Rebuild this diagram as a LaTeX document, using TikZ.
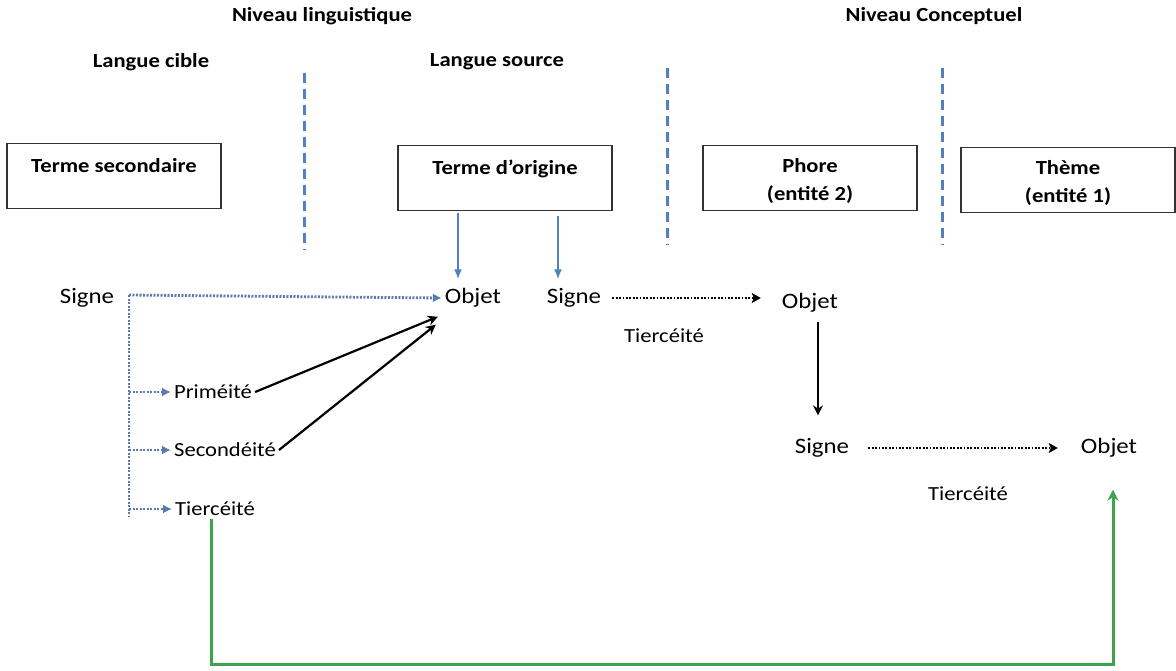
\documentclass[tikz,border=0pt]{standalone}
\usepackage{fontspec}
\setmainfont{Carlito}[FakeStretch=1.13]
\usepackage{tikz}
\usetikzlibrary{arrows.meta, positioning}
\definecolor{divblue}{RGB}{79,129,189}
\definecolor{dotblue}{RGB}{92,122,176}
\definecolor{linkgreen}{RGB}{62,163,76}
\tikzstyle{level} = [font=\fontsize{20}{24}\selectfont\bfseries, inner sep=2pt]
\tikzstyle{box} = [rectangle, draw=black!80, line width=1.2pt, minimum width=214pt, minimum height=65pt, inner sep=0pt, align=center, font=\fontsize{20}{28}\selectfont\bfseries]
\tikzstyle{word} = [font=\fontsize{22}{26}\selectfont, inner sep=3pt]
\tikzstyle{label} = [font=\fontsize{20}{24}\selectfont, inner sep=3pt]
\tikzstyle{divider} = [divblue, line width=3pt, dash pattern=on 10pt off 6pt]
\tikzstyle{bluearrow} = [divblue, line width=1.8pt, -{Latex[length=10pt,width=8pt]}]
\tikzstyle{treeline} = [dotblue, line width=2.8pt, dash pattern=on 2pt off 1.5pt]
\tikzstyle{treearrow} = [treeline, -{Latex[length=9pt,width=9pt]}]
\tikzstyle{arrow} = [black, line width=2.2pt, -{Stealth[length=10pt,width=10pt]}]
\tikzstyle{dotarrow} = [black, line width=2.4pt, dash pattern=on 1.8pt off 1.6pt, -{Stealth[length=9pt,width=10pt,inset=2pt]}]
\tikzstyle{greenarrow} = [linkgreen, line width=3pt, -{Stealth[length=11pt,width=11pt]}]

\begin{document}
\begin{tikzpicture}[x=1pt, y=-1pt]
\useasboundingbox (0,0) rectangle (1176,670);
% Placement of headers and boxes
\node (lingu) [level] at (322,16) {Niveau linguistique};
\node (concept) [level] at (934,16) {Niveau Conceptuel};
\node (cible) [level] at (151,62) {Langue cible};
\node (source) [level] at (497,62) {Langue source};

\node (secondaire) [box] at (114,176) {\rule{0pt}{20pt}Terme secondaire\\~};
\node (origine) [box] at (505,178) {\rule{0pt}{20pt}Terme d’origine\\~};
\node (phore) [box] at (810,178) {\rule{0pt}{20pt}Phore\\(entité 2)};
\node (theme) [box] at (1068,180) {\rule{0pt}{20pt}Thème\\(entité 1)};

% Dividers
\draw [divider] (304,73) -- (304,250);
\draw [divider] (667,68) -- (667,245);
\draw [divider] (942,68) -- (942,245);

% Placement of signs and objects
\node (signeA) [word] at (87,298) {Signe};
\node (objetA) [word] at (473,298) {Objet};
\node (signeB) [word] at (574,298) {Signe};
\node (objetB) [word] at (810,303) {Objet};
\node (tierB) [label] at (664,336) {Tiercéité};
\node (signeC) [word] at (822,448) {Signe};
\node (objetC) [word] at (1109,448) {Objet};
\node (tierC) [label] at (968,494) {Tiercéité};

\node (prim) [label] at (213,392) {Priméité};
\node (second) [label] at (225,450) {Secondéité};
\node (tierA) [label] at (215,509) {Tiercéité};

\coordinate (trunk) at (129,295);
\coordinate (trunkend) at (129,517);
\coordinate (bottom) at (0,664);

% Drawing of Lines of main chart
\draw [bluearrow, shorten <=2pt, shorten >=6pt] ([xshift=-47pt]origine.south) -- ([xshift=-47pt]origine.south |- objetA.north);
\draw [bluearrow, shorten <=5pt, shorten >=6pt] ([xshift=53pt]origine.south) -- ([xshift=53pt]origine.south |- signeB.north);

\draw [treeline] (trunk) -- (trunkend);
\draw [treearrow] (trunk) -- (objetA.west);
\draw [treearrow] (trunk |- prim) -- (prim.west);
\draw [treearrow] (trunk |- second) -- (second.west);
\draw [treearrow] (trunk |- tierA) -- (tierA.west);

\draw [arrow] (prim.east) -- ([xshift=-4pt, yshift=-6pt]objetA.south west);
\draw [arrow] (second.east) -- ([xshift=-6pt, yshift=-14pt]objetA.south west);

\draw [dotarrow, shorten <=8pt, shorten >=18pt] (signeB.east) -- (signeB.east -| objetB.west);
\draw [arrow, shorten <=6pt, shorten >=20pt] ([xshift=8pt]objetB.south) -- ([xshift=8pt]objetB.south |- signeC.north);
\draw [dotarrow, shorten <=16pt, shorten >=20pt] (signeC.east) -- (objetC.west);

\draw [greenarrow, shorten >=29pt] ([xshift=-4pt]tierA.south) -- ([xshift=-4pt]tierA.south |- bottom) -| ([xshift=4pt]objetC.south);
\end{tikzpicture}
\end{document}
